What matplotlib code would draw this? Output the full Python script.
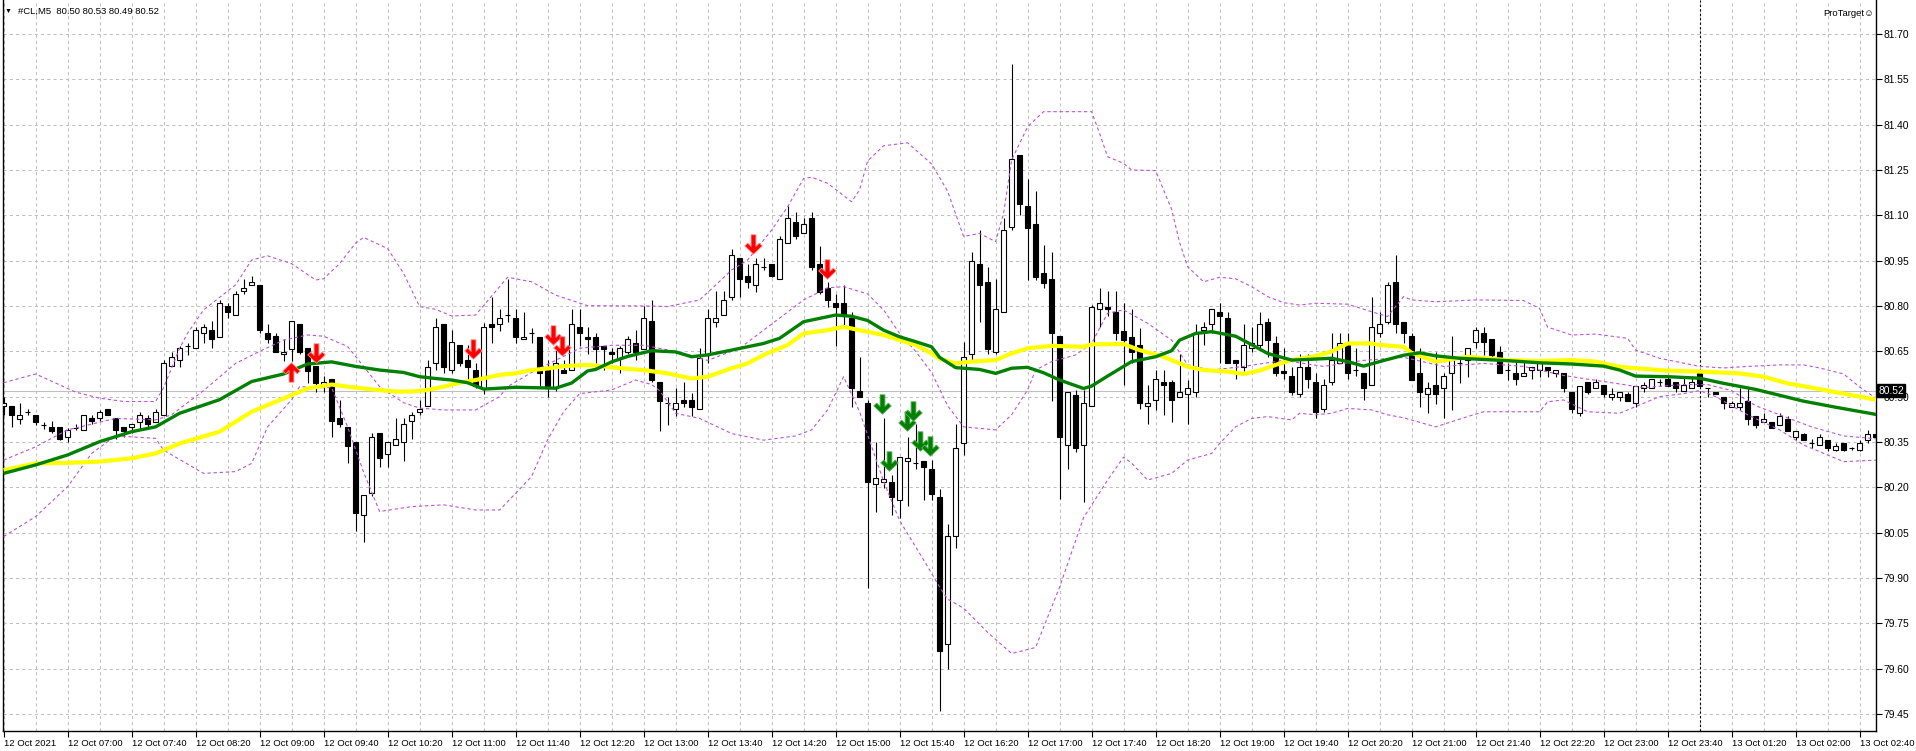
import numpy as np
import matplotlib
matplotlib.use("Agg")
import matplotlib.pyplot as plt
from matplotlib.path import Path
from matplotlib.transforms import blended_transform_factory

plt.rcParams['font.family'] = ['Liberation Sans', 'DejaVu Sans']

# #CL M5 bars, 12 Oct 06:20 -> 13 Oct 02:50 (session break after 23:55)
opens = [80.469, 80.469, 80.427, 80.45, 80.438, 80.406, 80.398, 80.398, 80.368, 80.397,
         80.388, 80.43, 80.428, 80.458, 80.428, 80.398, 80.398, 80.417, 80.428, 80.417,
         80.438, 80.60, 80.62, 80.669, 80.66, 80.71, 80.719, 80.699, 80.80, 80.77,
         80.85, 80.87, 80.87, 80.71, 80.70, 80.64, 80.659, 80.741, 80.66, 80.60,
         80.538, 80.559, 80.428, 80.399, 80.349, 80.108, 80.18, 80.379, 80.309, 80.339,
         80.349, 80.418, 80.448, 80.469, 80.61, 80.74, 80.589, 80.67, 80.621, 80.588,
         80.527, 80.74, 80.74, 80.77, 80.759, 80.69, 80.709, 80.698, 80.588, 80.527,
         80.588, 80.588, 80.73, 80.698, 80.698, 80.669, 80.649, 80.629, 80.649, 80.678,
         80.659, 80.749, 80.55, 80.478, 80.458, 80.489, 80.489, 80.458, 80.638, 80.748,
         80.77, 80.829, 80.958, 80.899, 80.869, 80.928, 80.939, 80.889, 81.01, 81.079,
         81.04, 81.09, 80.939, 80.858, 80.809, 80.809, 80.759, 80.519, 80.478, 80.21,
         80.219, 80.219, 80.158, 80.288, 80.279, 80.288, 80.259, 80.168, 79.68, 80.04,
         80.348, 80.64, 80.939, 80.879, 80.649, 80.779, 81.06, 81.298, 81.131, 81.071,
         80.908, 80.888, 80.701, 80.34, 80.507, 80.34, 80.469, 80.789, 80.798, 80.779,
         80.718, 80.698, 80.671, 80.469, 80.489, 80.547, 80.547, 80.50, 80.509, 80.516,
         80.72, 80.74, 80.779, 80.759, 80.621, 80.597, 80.66, 80.671, 80.748, 80.679,
         80.586, 80.568, 80.509, 80.597, 80.547, 80.458, 80.547, 80.61, 80.671, 80.588,
         80.577, 80.538, 80.709, 80.748, 80.879, 80.748, 80.701, 80.577, 80.508, 80.538,
         80.527, 80.577, 80.61, 80.621, 80.68, 80.71, 80.69, 80.649, 80.588, 80.577,
         80.568, 80.588, 80.588, 80.597, 80.577, 80.577, 80.516, 80.447, 80.547, 80.527,
         80.538, 80.498, 80.498, 80.508, 80.478, 80.527, 80.527, 80.547, 80.557, 80.547,
         80.518, 80.527, 80.577, 80.527, 80.517, 80.498, 80.467, 80.467, 80.487, 80.437,
         80.417, 80.417, 80.406, 80.427, 80.367, 80.376, 80.348, 80.34, 80.357, 80.323,
         80.348, 80.329, 80.323, 80.357, 80.376]
highs = [80.498, 80.47, 80.478, 80.458, 80.44, 80.417, 80.42, 80.40, 80.395, 80.41,
         80.438, 80.438, 80.456, 80.458, 80.43, 80.398, 80.409, 80.448, 80.438, 80.458,
         80.621, 80.649, 80.669, 80.679, 80.732, 80.74, 80.75, 80.82, 80.809, 80.849,
         80.89, 80.90, 80.87, 80.741, 80.71, 80.69, 80.75, 80.741, 80.66, 80.60,
         80.569, 80.559, 80.49, 80.399, 80.349, 80.176, 80.379, 80.379, 80.349, 80.428,
         80.428, 80.448, 80.49, 80.62, 80.76, 80.74, 80.72, 80.67, 80.67, 80.61,
         80.745, 80.83, 80.79, 80.889, 80.79, 80.779, 80.728, 80.698, 80.621, 80.66,
         80.62, 80.79, 80.79, 80.73, 80.709, 80.669, 80.66, 80.669, 80.70, 80.72,
         80.801, 80.82, 80.55, 80.498, 80.527, 80.548, 80.511, 80.66, 80.79, 80.85,
         80.85, 80.987, 80.958, 80.939, 80.958, 80.958, 80.939, 81.031, 81.131, 81.11,
         81.09, 81.11, 80.999, 80.878, 80.838, 80.869, 80.779, 80.63, 80.489, 80.349,
         80.428, 80.24, 80.299, 80.367, 80.408, 80.288, 80.29, 80.196, 80.08, 80.411,
         80.682, 80.98, 81.051, 80.928, 80.89, 81.09, 81.601, 81.298, 81.22, 81.18,
         81.002, 80.98, 80.701, 80.516, 80.522, 80.522, 80.803, 80.858, 80.85, 80.85,
         80.809, 80.789, 80.728, 80.538, 80.588, 80.588, 80.555, 80.641, 80.555, 80.74,
         80.748, 80.789, 80.809, 80.779, 80.621, 80.74, 80.731, 80.779, 80.759, 80.70,
         80.66, 80.597, 80.641, 80.641, 80.577, 80.557, 80.709, 80.709, 80.709, 80.66,
         80.577, 80.829, 80.779, 80.879, 80.969, 80.748, 80.71, 80.662, 80.547, 80.649,
         80.577, 80.70, 80.632, 80.66, 80.73, 80.729, 80.69, 80.669, 80.61, 80.62,
         80.62, 80.597, 80.62, 80.597, 80.588, 80.577, 80.516, 80.536, 80.547, 80.558,
         80.538, 80.527, 80.516, 80.516, 80.536, 80.547, 80.557, 80.557, 80.566, 80.547,
         80.568, 80.568, 80.588, 80.527, 80.517, 80.498, 80.487, 80.527, 80.527, 80.437,
         80.447, 80.417, 80.447, 80.437, 80.386, 80.379, 80.36, 80.376, 80.357, 80.345,
         80.348, 80.334, 80.357, 80.39, 80.386]
lows = [80.44, 80.398, 80.41, 80.438, 80.406, 80.393, 80.379, 80.357, 80.35, 80.388,
        80.388, 80.41, 80.418, 80.438, 80.359, 80.368, 80.379, 80.388, 80.398, 80.417,
        80.438, 80.60, 80.597, 80.638, 80.66, 80.679, 80.66, 80.699, 80.759, 80.77,
        80.84, 80.87, 80.71, 80.679, 80.649, 80.619, 80.619, 80.64, 80.546, 80.517,
        80.517, 80.368, 80.398, 80.28, 80.056, 80.02, 80.17, 80.268, 80.268, 80.339,
        80.288, 80.359, 80.438, 80.469, 80.589, 80.577, 80.577, 80.60, 80.544, 80.527,
        80.51, 80.678, 80.718, 80.748, 80.678, 80.69, 80.678, 80.527, 80.498, 80.52,
        80.577, 80.588, 80.669, 80.64, 80.61, 80.588, 80.61, 80.577, 80.64, 80.621,
        80.659, 80.55, 80.387, 80.406, 80.436, 80.467, 80.436, 80.458, 80.61, 80.73,
        80.77, 80.82, 80.829, 80.858, 80.847, 80.919, 80.897, 80.889, 81.01, 81.02,
        81.04, 80.919, 80.838, 80.798, 80.669, 80.737, 80.467, 80.498, 79.867, 80.117,
        80.197, 80.108, 80.097, 80.138, 80.259, 80.158, 80.158, 79.46, 79.60, 80.0,
        80.307, 80.621, 80.748, 80.641, 80.641, 80.779, 81.051, 81.101, 80.886, 80.886,
        80.858, 80.487, 80.16, 80.26, 80.318, 80.15, 80.469, 80.731, 80.767, 80.689,
        80.538, 80.61, 80.458, 80.409, 80.456, 80.439, 80.417, 80.50, 80.409, 80.50,
        80.671, 80.709, 80.61, 80.61, 80.557, 80.586, 80.649, 80.66, 80.63, 80.568,
        80.557, 80.505, 80.498, 80.527, 80.428, 80.448, 80.538, 80.61, 80.557, 80.568,
        80.489, 80.538, 80.698, 80.74, 80.709, 80.679, 80.555, 80.467, 80.447, 80.476,
        80.428, 80.456, 80.546, 80.566, 80.66, 80.638, 80.629, 80.577, 80.555, 80.538,
        80.568, 80.557, 80.566, 80.566, 80.566, 80.516, 80.447, 80.436, 80.508, 80.527,
        80.498, 80.489, 80.487, 80.487, 80.467, 80.516, 80.527, 80.536, 80.536, 80.516,
        80.518, 80.527, 80.536, 80.498, 80.508, 80.458, 80.467, 80.456, 80.406, 80.397,
        80.417, 80.397, 80.406, 80.387, 80.357, 80.356, 80.33, 80.34, 80.32, 80.32,
        80.321, 80.323, 80.321, 80.348, 80.36]
closes = [80.478, 80.438, 80.438, 80.45, 80.417, 80.406, 80.387, 80.359, 80.39, 80.397,
          80.438, 80.418, 80.448, 80.438, 80.388, 80.387, 80.409, 80.438, 80.409, 80.448,
          80.61, 80.63, 80.66, 80.669, 80.719, 80.73, 80.69, 80.809, 80.779, 80.84,
          80.86, 80.88, 80.719, 80.69, 80.649, 80.649, 80.75, 80.649, 80.586, 80.546,
          80.549, 80.418, 80.409, 80.338, 80.116, 80.176, 80.368, 80.298, 80.349, 80.359,
          80.409, 80.438, 80.459, 80.597, 80.73, 80.597, 80.68, 80.61, 80.597, 80.535,
          80.73, 80.73, 80.759, 80.77, 80.698, 80.698, 80.709, 80.577, 80.535, 80.61,
          80.577, 80.739, 80.709, 80.69, 80.659, 80.659, 80.64, 80.66, 80.69, 80.649,
          80.759, 80.555, 80.487, 80.478, 80.478, 80.478, 80.467, 80.629, 80.759, 80.759,
          80.82, 80.968, 80.888, 80.878, 80.939, 80.928, 80.899, 81.02, 81.09, 81.031,
          81.07, 80.928, 80.847, 80.82, 80.798, 80.769, 80.527, 80.498, 80.219, 80.23,
          80.229, 80.167, 80.299, 80.297, 80.279, 80.268, 80.177, 79.658, 80.04, 80.33,
          80.632, 80.95, 80.868, 80.659, 80.789, 81.051, 81.288, 81.137, 81.059, 80.897,
          80.877, 80.709, 80.367, 80.516, 80.329, 80.478, 80.798, 80.809, 80.789, 80.709,
          80.689, 80.649, 80.478, 80.478, 80.557, 80.538, 80.489, 80.516, 80.527, 80.709,
          80.729, 80.789, 80.768, 80.61, 80.61, 80.671, 80.679, 80.739, 80.689, 80.577,
          80.577, 80.516, 80.597, 80.557, 80.448, 80.538, 80.621, 80.679, 80.577, 80.588,
          80.527, 80.729, 80.739, 80.868, 80.74, 80.709, 80.555, 80.516, 80.527, 80.508,
          80.568, 80.621, 80.61, 80.66, 80.72, 80.68, 80.638, 80.577, 80.588, 80.557,
          80.577, 80.597, 80.61, 80.588, 80.588, 80.527, 80.458, 80.536, 80.516, 80.547,
          80.508, 80.508, 80.516, 80.487, 80.536, 80.538, 80.557, 80.547, 80.536, 80.527,
          80.538, 80.547, 80.536, 80.527, 80.508, 80.478, 80.478, 80.478, 80.427, 80.406,
          80.427, 80.397, 80.437, 80.387, 80.386, 80.357, 80.348, 80.367, 80.33, 80.337,
          80.323, 80.329, 80.348, 80.376, 80.367]

# moving averages (read at bar positions)
green_x = [0, 4, 8, 12, 16, 19, 22, 27, 31, 35, 38, 41, 44, 47, 50, 52, 54, 56, 58, 60,
           64, 69, 71, 73, 74, 76, 78, 81, 84, 86, 88, 91, 95, 97, 100, 102, 104, 106, 108, 110,
           112, 114, 116, 117, 119, 122, 124, 126, 128, 130, 132, 135, 136, 138, 141, 144, 146, 147, 149, 151,
           153, 154, 156, 158, 161, 163, 166, 168, 170, 172, 175, 177, 179, 182, 185, 188, 192, 196, 200, 202,
           204, 208, 212, 215, 219, 221, 225, 229, 234.3]
green_y = [80.246, 80.274, 80.307, 80.351, 80.384, 80.40, 80.445, 80.49, 80.55, 80.575, 80.608, 80.615, 80.60, 80.588, 80.58, 80.566, 80.56, 80.555, 80.546, 80.525,
           80.531, 80.528, 80.545, 80.585, 80.59, 80.615, 80.633, 80.652, 80.648, 80.632, 80.638, 80.654, 80.676, 80.693, 80.748, 80.759, 80.77, 80.766, 80.752, 80.72,
           80.698, 80.682, 80.665, 80.63, 80.596, 80.59, 80.577, 80.594, 80.597, 80.579, 80.555, 80.527, 80.535, 80.568, 80.616, 80.632, 80.652, 80.687, 80.709, 80.715,
           80.705, 80.70, 80.672, 80.643, 80.621, 80.623, 80.627, 80.616, 80.601, 80.616, 80.637, 80.645, 80.635, 80.627, 80.623, 80.619, 80.612, 80.608, 80.601, 80.588,
           80.568, 80.566, 80.561, 80.544, 80.524, 80.511, 80.485, 80.465, 80.44]
yellow_x = [0, 4, 8, 12, 16, 19, 22, 27, 31, 35, 38, 41, 43, 46, 49, 51, 53, 55, 57, 59,
            62, 64, 66, 68, 70, 73, 75, 78, 80, 83, 86, 88, 91, 93, 95, 98, 100, 103, 105, 107,
            110, 112, 114, 116, 117, 119, 121, 124, 126, 128, 131, 135, 136, 140, 142, 145, 148, 150, 153, 155,
            157, 159, 161, 164, 166, 168, 171, 172, 175, 176, 179, 183, 188, 192, 196, 199, 202, 204, 208, 212,
            217, 220, 223, 228, 231, 234.3]
yellow_y = [80.257, 80.279, 80.281, 80.285, 80.296, 80.312, 80.345, 80.384, 80.45, 80.494, 80.527, 80.54, 80.533, 80.524, 80.517, 80.517, 80.522, 80.533, 80.546, 80.555,
            80.572, 80.577, 80.588, 80.593, 80.601, 80.605, 80.60, 80.592, 80.588, 80.577, 80.56, 80.566, 80.594, 80.61, 80.638, 80.671, 80.709, 80.72, 80.731, 80.72,
            80.704, 80.687, 80.671, 80.643, 80.625, 80.61, 80.616, 80.621, 80.643, 80.66, 80.668, 80.665, 80.673, 80.674, 80.654, 80.632, 80.599, 80.588, 80.583, 80.575,
            80.586, 80.605, 80.621, 80.634, 80.649, 80.676, 80.676, 80.671, 80.665, 80.645, 80.616, 80.632, 80.621, 80.618, 80.621, 80.616, 80.599, 80.594, 80.586, 80.583,
            80.577, 80.566, 80.544, 80.52, 80.505, 80.489]

# bollinger bands
bb_up_x = [0, 4, 9, 12, 15, 19, 20, 22, 23, 25, 29, 31, 33, 36, 39, 40, 42, 44, 45, 48,
           50, 52, 54, 56, 59, 62, 63, 66, 69, 73, 81, 83, 87, 89, 91, 93, 96, 98, 100, 101,
           103, 106, 107, 108, 110, 113, 116, 118, 120, 122, 124, 125, 126, 128, 130, 136, 137, 138, 140, 141,
           144, 146, 147, 148, 150, 152, 154, 156, 158, 160, 162, 164, 168, 171, 173, 175, 176, 179, 184, 190,
           192, 193, 196, 199, 203, 204, 207, 212, 215, 218, 222, 225, 227, 230, 232, 234.3]
bb_up_y = [80.546, 80.575, 80.515, 80.495, 80.484, 80.484, 80.53, 80.66, 80.71, 80.787, 80.87, 80.952, 80.966, 80.94, 80.886, 80.89, 80.94, 81.008, 81.027, 80.99,
           80.908, 80.798, 80.789, 80.767, 80.77, 80.864, 80.895, 80.88, 80.836, 80.801, 80.80, 80.798, 80.82, 80.869, 80.919, 80.952, 81.051, 81.128, 81.222, 81.226,
           81.206, 81.145, 81.184, 81.28, 81.33, 81.34, 81.27, 81.18, 81.03, 81.04, 81.013, 81.107, 81.283, 81.393, 81.443, 81.443, 81.371, 81.294, 81.272, 81.25,
           81.248, 81.12, 81.01, 80.93, 80.88, 80.895, 80.89, 80.864, 80.831, 80.811, 80.803, 80.809, 80.806, 80.781, 80.765, 80.831, 80.82, 80.814, 80.82, 80.818,
           80.792, 80.73, 80.704, 80.707, 80.693, 80.654, 80.627, 80.60, 80.595, 80.60, 80.605, 80.605, 80.595, 80.575, 80.532, 80.49]
bb_mid_x = [0, 4, 8, 14, 19, 21, 25, 29, 32, 35, 38, 40, 43, 45, 47, 50, 52, 55, 59, 62,
            63, 66, 69, 72, 76, 80, 84, 88, 92, 96, 100, 103, 105, 108, 110, 112, 114, 116, 118, 120,
            124, 126, 128, 129, 131, 134, 136, 138, 140, 143, 146, 148, 151, 155, 160, 165, 170, 175, 180, 185,
            190, 195, 200, 205, 210, 213, 216, 219, 223, 226, 230, 234.3]
bb_mid_y = [80.29, 80.334, 80.39, 80.428, 80.423, 80.44, 80.52, 80.61, 80.65, 80.687, 80.704, 80.70, 80.666, 80.60, 80.533, 80.48, 80.462, 80.456, 80.456, 80.50,
            80.533, 80.58, 80.62, 80.66, 80.67, 80.67, 80.65, 80.62, 80.66, 80.74, 80.82, 80.86, 80.864, 80.84, 80.787, 80.709, 80.65, 80.58, 80.47, 80.40,
            80.39, 80.44, 80.522, 80.588, 80.616, 80.638, 80.676, 80.776, 80.787, 80.743, 80.687, 80.605, 80.588, 80.60, 80.62, 80.60, 80.62, 80.63, 80.60, 80.61,
            80.60, 80.57, 80.55, 80.53, 80.54, 80.54, 80.52, 80.47, 80.43, 80.40, 80.37, 80.36]
bb_lo_x = [0, 4, 8, 11, 14, 19, 20, 25, 29, 31, 33, 36, 37, 39, 41, 43, 45, 47, 51, 55,
           59, 62, 64, 66, 68, 70, 72, 76, 79, 81, 82, 84, 87, 91, 95, 99, 101, 103, 105, 107,
           110, 112, 115, 117, 118, 120, 123, 126, 129, 132, 135, 138, 140, 141, 143, 146, 148, 151, 152, 154,
           156, 158, 161, 162, 164, 166, 168, 171, 173, 175, 179, 183, 185, 192, 193, 195, 198, 202, 204, 207,
           210, 212, 214, 218, 222, 225, 228, 230, 234.3]
bb_lo_y = [80.037, 80.103, 80.202, 80.312, 80.37, 80.362, 80.323, 80.246, 80.252, 80.279, 80.40, 80.49, 80.533, 80.53, 80.53, 80.40, 80.25, 80.12, 80.136, 80.142,
           80.125, 80.125, 80.18, 80.236, 80.357, 80.45, 80.51, 80.522, 80.555, 80.54, 80.52, 80.445, 80.428, 80.378, 80.356, 80.37, 80.39, 80.456, 80.566, 80.45,
           80.22, 80.09, 79.96, 79.87, 79.83, 79.80, 79.72, 79.65, 79.67, 79.87, 80.10, 80.224, 80.30, 80.28, 80.224, 80.246, 80.29, 80.312, 80.345, 80.40,
           80.428, 80.434, 80.423, 80.445, 80.44, 80.445, 80.461, 80.456, 80.44, 80.43, 80.40, 80.434, 80.45, 80.45, 80.483, 80.489, 80.45, 80.445, 80.467, 80.50,
           80.51, 80.52, 80.50, 80.44, 80.39, 80.34, 80.307, 80.285, 80.29]

# signal arrows (bar position, arrow centre price)
red_up_x = [35.9]
red_up_y = [80.58]
red_dn_x = [39.0, 58.7, 68.7, 69.8, 93.7, 102.9]
red_dn_y = [80.644, 80.657, 80.705, 80.668, 81.004, 80.924]
grn_dn_x = [109.8, 110.7, 112.9, 113.7, 114.5, 115.8]
grn_dn_y = [80.475, 80.288, 80.418, 80.453, 80.354, 80.337]

price_ticks = [79.45, 79.60, 79.75, 79.90, 80.05, 80.20, 80.35, 80.50, 80.65, 80.80,
               80.95, 81.10, 81.25, 81.40, 81.55, 81.70]
time_ticks = list(range(0, 233, 8))
time_labels = ['12 Oct 2021', '12 Oct 07:00', '12 Oct 07:40', '12 Oct 08:20', '12 Oct 09:00',
               '12 Oct 09:40', '12 Oct 10:20', '12 Oct 11:00', '12 Oct 11:40', '12 Oct 12:20',
               '12 Oct 13:00', '12 Oct 13:40', '12 Oct 14:20', '12 Oct 15:00', '12 Oct 15:40',
               '12 Oct 16:20', '12 Oct 17:00', '12 Oct 17:40', '12 Oct 18:20', '12 Oct 19:00',
               '12 Oct 19:40', '12 Oct 20:20', '12 Oct 21:00', '12 Oct 21:40', '12 Oct 22:20',
               '12 Oct 23:00', '12 Oct 23:40', '13 Oct 01:20', '13 Oct 02:00', '13 Oct 02:40']
bid = 80.52
separator_bar = 212
header = '#CL,M5  80.50 80.53 80.49 80.52'

W, H = 1916, 751
fig = plt.figure(figsize=(W / 100, H / 100), dpi=100)
ax = fig.add_axes([3 / W, 20 / H, 1873 / W, 731 / H])
ax.set_xlim(-0.075, 234.05)
ax.set_ylim(79.3936, 81.8125)

# grid and scales
ax.set_yticks(price_ticks)
ax.set_yticklabels(['%.2f' % p for p in price_ticks])
ax.set_xticks(time_ticks)
ax.set_xticklabels(time_labels, ha='left')
ax.set_xticks(np.arange(0, 235, 4), minor=True)
ax.grid(which='both', color='#C0C0C0', ls=(0, (3, 3)), lw=0.75, zorder=0)
ax.set_axisbelow(True)
ax.yaxis.tick_right()
ax.tick_params(axis='x', which='major', length=4, width=0.8, pad=1.5, labelsize=6.8)
ax.tick_params(axis='x', which='minor', length=0)
ax.tick_params(axis='y', length=4, width=0.8, pad=1.5, labelsize=7.4)
for s in ['left', 'bottom', 'right']:
    ax.spines[s].set_linewidth(1.0)
ax.spines['top'].set_visible(False)

ax.axhline(bid, color='#C0C0C0', lw=0.8, zorder=1)
ax.axvline(separator_bar, color='black', lw=0.8, ls=(0, (2, 2)), zorder=1.5)

# candles
o = np.array(opens); h = np.array(highs); l = np.array(lows); c = np.array(closes)
x = np.arange(len(o))
bw = 0.6
ax.vlines(x, l, h, color='black', lw=0.8, zorder=2)
up = c > o
dn = c < o
dj = c == o
ax.bar(x[up], (c - o)[up], bottom=o[up], width=bw, facecolor='white', edgecolor='black', lw=0.8, zorder=3)
ax.bar(x[dn], (o - c)[dn], bottom=c[dn], width=bw, facecolor='black', edgecolor='black', lw=0.8, zorder=3)
ax.hlines(o[dj], x[dj] - bw / 2, x[dj] + bw / 2, color='black', lw=0.8, zorder=3)

# indicators
band = dict(color='#BA55D3', lw=0.8, ls=(0, (3, 2.5)), zorder=4)
ax.plot(bb_up_x, bb_up_y, **band)
ax.plot(bb_mid_x, bb_mid_y, **band)
ax.plot(bb_lo_x, bb_lo_y, **band)
ax.plot(yellow_x, yellow_y, color='#FFFF00', lw=3.0, zorder=5, solid_capstyle='butt')
ax.plot(green_x, green_y, color='#008000', lw=2.4, zorder=6, solid_capstyle='butt')

# arrow glyphs
dn_verts = [(-0.25, 1), (0.25, 1), (0.25, -0.2), (0.6, 0.15), (0.9, -0.15), (0, -1),
            (-0.9, -0.15), (-0.6, 0.15), (-0.25, -0.2), (-0.25, 1)]
dn_arrow = Path(dn_verts, closed=True)
up_arrow = Path([(vx, -vy) for vx, vy in dn_verts], closed=True)
ax.plot(red_up_x, red_up_y, ls='none', marker=up_arrow, ms=14, mfc='#FF0000', mec='#FF9090', mew=0.6, zorder=7)
ax.plot(red_dn_x, red_dn_y, ls='none', marker=dn_arrow, ms=14, mfc='#FF0000', mec='#FF9090', mew=0.6, zorder=7)
ax.plot(grn_dn_x, grn_dn_y, ls='none', marker=dn_arrow, ms=14, mfc='#008000', mec='#60B060', mew=0.6, zorder=7)

# bid label on the price scale
tr = blended_transform_factory(ax.transAxes, ax.transData)
ax.text(1.0012, bid, '%.2f' % bid, transform=tr, ha='left', va='center', fontsize=7.4, color='white',
        bbox=dict(facecolor='black', edgecolor='black', pad=1.0), zorder=10, clip_on=False)

fig.text(5 / W, 1 - 11 / H, '\u25bc', fontsize=5, va='center', ha='left')
fig.text(18 / W, 1 - 11 / H, header, fontsize=6.8, va='center', ha='left')
fig.text(1874 / W, 1 - 13 / H, 'ProTarget\u263a', fontsize=6.8, va='center', ha='right')

fig.savefig('out.png', dpi=100)
